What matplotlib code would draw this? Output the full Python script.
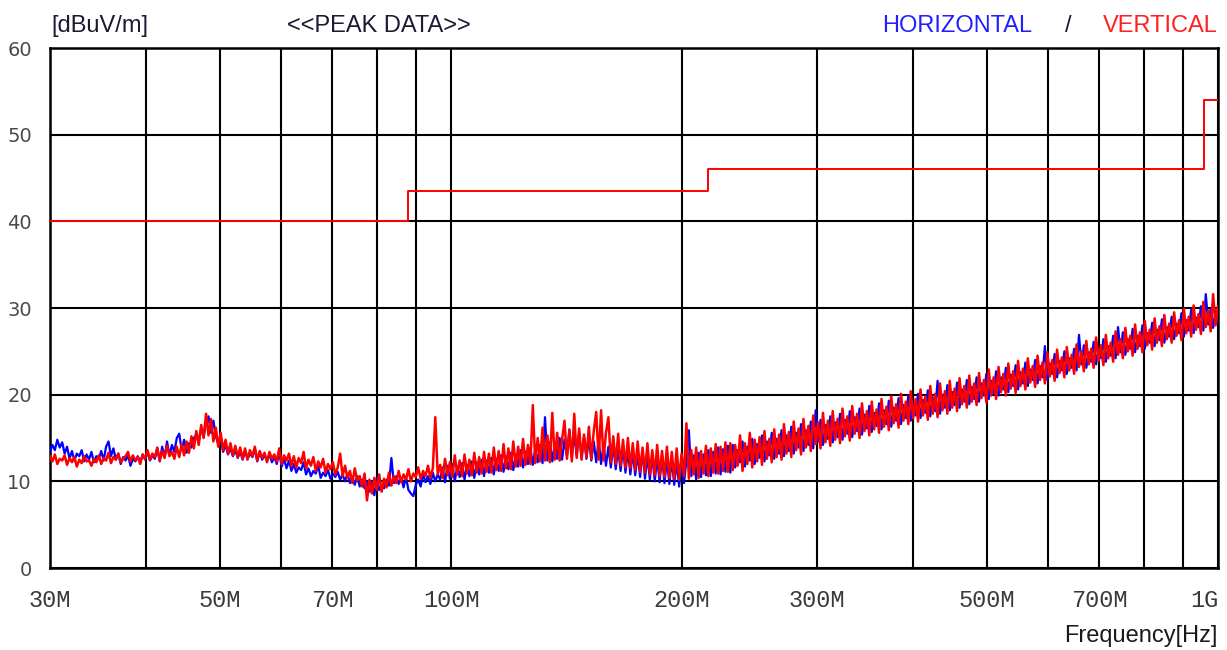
import numpy as np
import matplotlib
matplotlib.use("Agg")
import matplotlib.pyplot as plt

# ---- data (MHz / dBuV/m) ----
f_start, f_stop = 30.0, 1000.0

vertical = [
    12.9, 12.3, 13.1, 12.0, 12.6, 12.4, 13.0, 11.9, 12.7, 12.2, 12.8, 11.7, 12.5, 12.1, 12.9, 12.3, 12.4, 11.8, 12.6, 12.2,
    13.0, 12.0, 12.7, 12.4, 13.3, 12.1, 12.8, 12.5, 13.2, 12.2, 12.6, 12.9, 13.4, 12.3, 13.0, 12.4, 12.8, 12.0, 13.1, 12.6,
    13.6, 12.5, 13.2, 12.8, 13.9, 12.4, 13.5, 12.7, 14.1, 12.9, 13.4, 12.6, 14.0, 12.8, 14.3, 13.0, 14.6, 13.3, 15.2, 13.8,
    15.8, 14.2, 16.5, 15.0, 17.8, 15.3, 17.2, 14.6, 16.2, 14.0, 15.6, 13.6, 14.8, 13.2, 14.4, 13.0, 14.1, 12.8, 13.9, 12.6,
    13.8, 12.5, 13.6, 12.9, 14.0, 12.4, 13.5, 12.7, 13.3, 12.2, 13.4, 12.6, 13.1, 12.3, 13.8, 12.0, 13.0, 12.4, 13.2, 11.8,
    12.9, 11.6, 12.7, 12.1, 13.4, 11.5, 12.5, 11.8, 12.8, 11.2, 12.3, 11.6, 12.6, 11.0, 12.0, 11.4, 12.2, 10.8, 11.6, 13.2,
    10.6, 11.8, 10.4, 11.2, 9.8, 11.5, 10.1, 10.6, 9.4, 10.9, 7.8, 10.2, 8.6, 10.4, 9.0, 10.8, 8.8, 10.3, 9.3, 11.0,
    9.5, 10.6, 9.8, 11.2, 9.9, 10.8, 10.2, 11.4, 10.0, 10.9, 10.5, 11.6, 10.3, 11.2, 10.6, 11.8, 10.4, 11.5, 17.4, 10.8,
    11.9, 10.4, 12.6, 10.7, 12.2, 10.5, 13.0, 10.8, 12.4, 10.6, 13.1, 10.9, 12.5, 10.7, 13.3, 11.0, 12.8, 10.9, 13.4, 11.1,
    13.2, 11.0, 13.9, 11.3, 13.5, 11.2, 14.3, 11.5, 13.8, 11.4, 14.6, 11.7, 14.0, 11.8, 14.9, 11.9, 14.2, 12.0, 18.8, 12.1,
    15.0, 12.3, 16.2, 12.4, 15.3, 12.2, 17.9, 12.5, 15.6, 12.4, 14.8, 17.0, 12.6, 15.9, 12.3, 17.8, 12.7, 16.1, 12.5, 15.4,
    12.8, 16.3, 12.6, 15.8, 18.0, 12.5, 18.2, 12.4, 15.6, 17.4, 12.2, 15.2, 12.0, 15.5, 11.8, 14.8, 11.6, 15.0, 11.5, 14.4,
    11.3, 14.6, 11.1, 13.9, 11.0, 14.4, 10.8, 13.6, 10.7, 14.2, 10.6, 13.5, 10.5, 14.0, 10.4, 13.4, 10.3, 13.8, 10.2, 13.2,
    10.6, 16.7, 10.3, 13.6, 10.8, 13.9, 10.4, 13.5, 10.9, 14.1, 10.6, 13.8, 11.0, 14.3, 10.9, 14.0, 11.2, 14.5, 11.1, 14.4,
    11.3, 14.2, 11.8, 15.3, 11.2, 14.4, 12.0, 15.6, 11.6, 14.8, 12.3, 15.1, 11.9, 15.8, 12.6, 14.9, 12.2, 16.0, 12.8, 15.4,
    12.5, 16.6, 13.2, 15.7, 12.8, 16.9, 13.6, 16.1, 13.1, 17.2, 13.9, 16.4, 13.5, 17.6, 14.3, 16.8, 13.8, 17.9, 14.5, 17.0,
    14.1, 18.1, 14.8, 17.2, 14.4, 18.4, 15.2, 17.5, 14.7, 18.7, 15.5, 17.8, 15.0, 19.0, 15.8, 18.1, 15.3, 19.2, 16.0, 18.3,
    15.6, 19.5, 16.3, 18.6, 15.9, 19.8, 16.7, 18.9, 16.2, 20.1, 17.0, 19.2, 16.6, 20.4, 17.3, 19.5, 16.9, 20.6, 17.6, 19.8,
    17.1, 21.0, 17.8, 20.1, 17.4, 21.3, 18.2, 20.4, 17.8, 21.6, 18.5, 20.7, 18.1, 21.9, 18.9, 21.0, 18.5, 22.2, 19.2, 21.3,
    18.8, 22.5, 19.6, 21.7, 19.1, 22.9, 19.9, 22.0, 19.5, 23.2, 20.3, 22.4, 19.9, 23.6, 20.7, 22.7, 20.2, 23.9, 21.0, 23.0,
    20.6, 24.2, 21.4, 23.3, 20.9, 24.5, 21.7, 23.7, 21.3, 24.9, 22.1, 24.0, 21.6, 25.2, 22.5, 24.3, 22.0, 25.5, 22.8, 24.6,
    22.4, 25.8, 23.2, 25.0, 22.7, 26.2, 23.5, 25.3, 23.1, 26.6, 23.9, 25.7, 23.4, 26.9, 24.2, 26.0, 23.8, 27.3, 24.6, 26.4,
    24.2, 27.7, 25.0, 26.8, 24.5, 28.1, 25.3, 27.2, 24.9, 28.5, 25.7, 27.5, 25.2, 28.8, 26.0, 27.9, 25.6, 29.2, 26.4, 28.2,
    26.0, 29.5, 26.8, 28.6, 26.3, 29.9, 27.1, 29.0, 26.7, 30.3, 27.5, 29.3, 27.0, 30.7, 27.8, 29.7, 27.3, 31.6, 28.0, 30.2,
]

horizontal = [
    13.4, 14.2, 13.6, 14.8, 13.9, 14.5, 13.2, 14.0, 12.6, 13.5, 12.4, 13.2, 12.9, 13.6, 12.3, 13.1, 12.5, 13.4, 12.2, 12.9,
    12.6, 13.5, 12.4, 14.0, 14.6, 12.9, 13.8, 12.5, 13.2, 12.0, 12.8, 12.4, 13.0, 11.8, 12.6, 12.3, 12.9, 12.2, 13.1, 12.5,
    13.4, 12.4, 13.0, 12.6, 13.8, 12.3, 14.0, 12.8, 14.6, 13.0, 14.2, 13.4, 15.0, 15.5, 13.6, 14.8, 13.3, 14.4, 13.9, 15.0,
    15.4, 14.6, 16.2, 15.1, 16.8, 17.5, 15.6, 17.0, 15.2, 14.3, 15.0, 13.4, 14.2, 13.1, 13.8, 12.9, 13.6, 12.7, 13.4, 12.5,
    13.5, 12.6, 13.2, 12.8, 13.7, 12.3, 13.4, 12.5, 13.0, 12.4, 13.1, 12.2, 12.8, 12.0, 13.4, 11.7, 12.6, 11.5, 12.4, 11.2,
    12.0, 11.0, 11.6, 11.3, 12.2, 10.8, 11.5, 10.6, 11.2, 10.9, 11.8, 10.4, 11.0, 10.6, 11.3, 10.3, 10.9, 10.5, 11.1, 10.2,
    10.8, 10.0, 10.9, 9.8, 10.5, 9.6, 10.6, 9.4, 10.2, 9.2, 10.0, 8.8, 9.8, 8.4, 10.4, 9.0, 9.6, 9.2, 10.2, 9.5,
    12.7, 9.8, 10.6, 9.7, 10.4, 9.3, 10.5, 9.0, 8.6, 8.3, 9.6, 10.2, 9.4, 10.8, 9.9, 10.6, 9.7, 11.0, 10.0, 10.8,
    10.2, 11.6, 9.9, 11.8, 10.3, 12.0, 10.0, 11.7, 10.5, 12.1, 10.2, 11.9, 10.6, 12.3, 10.4, 12.2, 10.8, 12.5, 10.6, 12.4,
    11.0, 12.7, 10.8, 12.6, 11.2, 13.0, 11.1, 12.9, 11.4, 13.3, 11.3, 13.1, 11.7, 13.6, 11.6, 13.4, 12.0, 13.9, 11.9, 13.7,
    12.2, 14.2, 12.1, 17.4, 12.4, 14.5, 12.3, 14.4, 12.6, 15.0, 12.5, 14.8, 12.9, 16.0, 12.8, 15.4, 13.0, 15.6, 12.7, 15.2,
    12.6, 15.0, 12.4, 14.6, 12.2, 14.8, 12.0, 14.2, 11.8, 14.0, 11.6, 14.3, 11.4, 13.8, 11.2, 14.0, 11.0, 13.6, 10.8, 13.4,
    10.7, 13.2, 10.5, 13.5, 10.3, 12.9, 10.2, 13.1, 10.0, 12.7, 9.9, 12.9, 9.8, 12.5, 9.7, 12.6, 9.6, 12.3, 9.4, 12.0,
    9.8, 12.4, 15.9, 10.6, 13.0, 10.2, 13.3, 10.5, 13.1, 10.7, 13.6, 10.6, 13.4, 10.9, 13.9, 10.8, 13.7, 11.1, 14.1, 11.0,
    14.2, 11.6, 13.6, 12.2, 14.6, 11.7, 14.0, 12.4, 14.9, 12.0, 14.3, 12.7, 15.3, 12.3, 14.6, 13.0, 15.6, 12.6, 14.9, 13.2,
    15.9, 12.9, 15.3, 13.5, 16.3, 13.2, 15.6, 13.9, 16.6, 13.5, 15.9, 14.2, 16.9, 13.8, 18.2, 14.6, 17.1, 14.2, 16.5, 14.9,
    17.5, 14.5, 16.8, 15.1, 17.8, 14.8, 17.1, 15.5, 18.1, 15.1, 17.4, 15.8, 18.4, 15.4, 17.7, 16.1, 18.7, 15.7, 17.9, 16.4,
    19.0, 16.0, 18.2, 16.6, 19.3, 16.3, 18.5, 17.0, 19.6, 16.6, 18.8, 17.3, 19.9, 17.0, 19.1, 17.6, 20.1, 17.3, 19.4, 17.9,
    20.5, 17.5, 19.7, 18.1, 21.6, 17.8, 20.0, 18.5, 21.1, 18.2, 20.3, 18.8, 21.4, 18.5, 20.6, 19.2, 21.7, 18.9, 20.9, 19.5,
    22.0, 19.2, 21.3, 19.9, 22.4, 19.5, 21.6, 20.2, 22.7, 19.9, 22.0, 20.6, 23.1, 20.3, 22.3, 21.0, 23.4, 20.6, 22.6, 21.3,
    23.7, 21.0, 22.9, 21.7, 24.0, 21.3, 23.3, 22.0, 25.6, 21.7, 23.6, 22.4, 24.7, 22.0, 23.9, 22.8, 25.0, 22.4, 24.2, 23.1,
    25.3, 22.8, 26.9, 23.5, 25.7, 23.1, 24.9, 23.8, 26.1, 23.5, 25.3, 24.2, 26.4, 23.8, 25.6, 24.5, 26.8, 24.2, 27.8, 24.9,
    27.2, 24.6, 26.4, 25.3, 27.6, 24.9, 26.8, 25.6, 28.0, 25.3, 27.1, 26.0, 28.3, 25.6, 27.5, 26.3, 28.7, 26.0, 27.8, 26.7,
    29.0, 26.4, 28.2, 27.1, 29.4, 26.7, 28.6, 27.4, 29.8, 27.1, 28.9, 27.8, 30.2, 27.4, 31.6, 28.1, 29.9, 27.7, 29.7, 28.3,
]

limit_freq = [30, 88, 88, 216, 216, 960, 960, 1000]
limit_level = [40, 40, 43.5, 43.5, 46, 46, 54, 54]

grid_freqs = [30, 40, 50, 60, 70, 80, 90, 100, 200, 300, 400, 500, 600, 700, 800, 900, 1000]
tick_freqs = [30, 50, 70, 100, 200, 300, 500, 700, 1000]
tick_labels = ["30M", "50M", "70M", "100M", "200M", "300M", "500M", "700M", "1G"]
y_ticks = [0, 10, 20, 30, 40, 50, 60]

# ---- figure ----
fig = plt.figure(figsize=(12.27, 6.5), dpi=100)
ax = fig.add_axes([50/1227, 1-568/650, (1218-50)/1227, (568-48)/650])

freq_h = np.geomspace(f_start, f_stop, len(horizontal))
freq_v = np.geomspace(f_start, f_stop, len(vertical))

ax.set_xscale("log")
ax.set_xlim(f_start, f_stop)
ax.set_ylim(0, 60)

for g in grid_freqs:
    ax.axvline(g, color="black", lw=1.5, zorder=1)
for yv in y_ticks:
    ax.axhline(yv, color="black", lw=1.5, zorder=1)

ax.plot(freq_h, horizontal, color="#0000ff", lw=1.6, zorder=3)
ax.plot(freq_v, vertical, color="#ff0000", lw=1.8, zorder=4)
ax.plot(limit_freq, limit_level, color="#ff0000", lw=1.4, zorder=5)

for s in ax.spines.values():
    s.set_linewidth(1.8)
    s.set_color("black")

ax.xaxis.set_minor_locator(matplotlib.ticker.NullLocator())
ax.set_xticks(tick_freqs)
ax.set_xticklabels(tick_labels, family="Liberation Mono", fontsize=17, color="#3a3a3a")
ax.get_xticklabels()[-1].set_horizontalalignment("right")
ax.set_yticks(y_ticks)
ax.set_yticklabels([str(v) for v in y_ticks], family="DejaVu Sans", fontsize=14, color="#4a4a4a")
ax.tick_params(axis="both", length=0)
ax.tick_params(axis="x", pad=15)
ax.tick_params(axis="y", pad=13)

hdr_y = 1 - 26/650
fig.text(51/1227, hdr_y, "[dBuV/m]", family="Liberation Sans", fontsize=17, color="#1a1a33", va="center", ha="left")
fig.text(287/1227, hdr_y, "<<PEAK DATA>>", family="Liberation Sans", fontsize=17, color="#1a1a33", va="center", ha="left")
fig.text(1032/1227, hdr_y, "HORIZONTAL", family="Liberation Sans", fontsize=17, color="#2020ff", va="center", ha="right")
fig.text(1068/1227, hdr_y, "/", family="Liberation Sans", fontsize=17, color="#1a1a33", va="center", ha="center")
fig.text(1218/1227, hdr_y, "VERTICAL", family="Liberation Sans", fontsize=17, color="#ff2020", va="center", ha="right")
fig.text(1218/1227, 1-636/650, "Frequency[Hz]", family="Liberation Sans", fontsize=17, color="#1a1a1a", va="center", ha="right")

fig.savefig("out.png", dpi=100, facecolor="white")
